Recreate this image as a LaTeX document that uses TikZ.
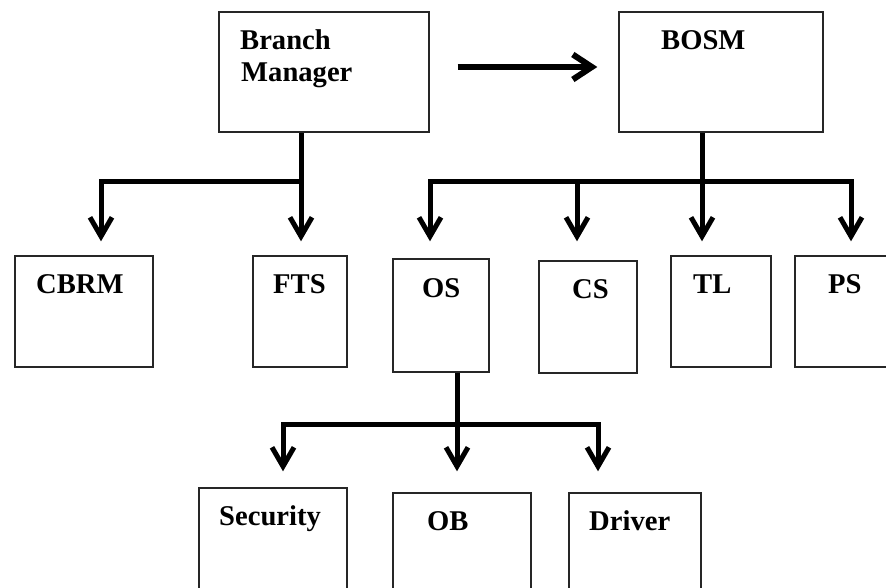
\documentclass[tikz,border=0pt]{standalone}
\usepackage{fontspec}
\setmainfont{Liberation Serif}
\usetikzlibrary{arrows.meta}
\begin{document}
\begin{tikzpicture}[x=1pt,y=-1pt,
  box/.style={draw=black!85,line width=1.4pt,fill=white,inner sep=0pt,rectangle},
  lbl/.style={anchor=base west,inner sep=0pt,font=\fontsize{28.6}{32}\selectfont\bfseries},
  conn/.style={line width=5pt,black},
  arr/.style={-{Straight Barb[length=19pt,width=22pt]}}
]
\useasboundingbox (0,0) rectangle (886,588);
\clip (0,0) rectangle (886,588);
% boxes
\node[box,minimum width=210pt,minimum height=120pt] (bm) at (324,72) {};
\node[box,minimum width=204pt,minimum height=120pt] (bosm) at (721,72) {};
\node[box,minimum width=138pt,minimum height=111pt] (cbrm) at (84,311.5) {};
\node[box,minimum width=94pt,minimum height=111pt] (fts) at (300,311.5) {};
\node[box,minimum width=96pt,minimum height=113pt] (os) at (441,315.5) {};
\node[box,minimum width=98pt,minimum height=112pt] (cs) at (588,317) {};
\node[box,minimum width=100pt,minimum height=111pt] (tl) at (721,311.5) {};
\node[box,minimum width=114pt,minimum height=111pt] (ps) at (852,311.5) {};
\node[box,minimum width=148pt,minimum height=132pt] (sec) at (273,554) {};
\node[box,minimum width=138pt,minimum height=127pt] (ob) at (462,556.5) {};
\node[box,minimum width=132pt,minimum height=127pt] (drv) at (635,556.5) {};
% labels
\node[lbl] (t1) at (240,50) {Branch};
\node[lbl] (t2) at (241,82) {Manager};
\node[lbl] (t3) at (661,50) {BOSM};
\node[lbl] (t4) at (36,293) {CBRM};
\node[lbl] (t5) at (273,293) {FTS};
\node[lbl] (t6) at (422,297) {OS};
\node[lbl] (t7) at (572,298) {CS};
\node[lbl] (t8) at (693,293) {TL};
\node[lbl] (t9) at (828,293) {PS};
\node[lbl] (t10) at (219,525) {Security};
\node[lbl] (t11) at (427,530) {OB};
\node[lbl] (t12) at (589,530) {Driver};
% junctions
\coordinate (bmj) at (301,182);
\coordinate (bj) at (702,182);
\coordinate (oj) at (457,424);
% main arrow
\draw[conn,line width=6pt,-{Straight Barb[length=19pt,width=25pt]}] ([xshift=28pt,yshift=5pt]bm.east) -- ([xshift=-21pt,yshift=5pt]bosm.west);
% branch manager tree
\draw[conn] (bm.south -| bmj) -- (bmj);
\draw[conn,arr,shorten >=14pt] (bmj) -| ([xshift=17pt]cbrm.north);
\draw[conn,arr,shorten >=14pt] (bmj) -- (bmj |- fts.north);
% BOSM tree
\draw[conn] (bosm.south -| bj) -- (bj);
\draw[conn,arr,shorten >=17pt] (bj) -| ([xshift=-11pt]os.north);
\draw[conn,arr,shorten >=19pt] (bj) -| ([xshift=-11pt]cs.north);
\draw[conn,arr,shorten >=14pt] (bj) -- (bj |- tl.north);
\draw[conn,arr,shorten >=14pt] (bj) -| ([xshift=-1pt]ps.north);
% OS tree
\draw[conn] (os.south -| oj) -- (oj);
\draw[conn,arr,shorten >=16pt] (oj) -| ([xshift=10pt]sec.north);
\draw[conn,arr,shorten >=21pt] (oj) -- (oj |- ob.north);
\draw[conn,arr,shorten >=21pt] (oj) -| ([xshift=-37pt]drv.north);
\end{tikzpicture}
\end{document}
